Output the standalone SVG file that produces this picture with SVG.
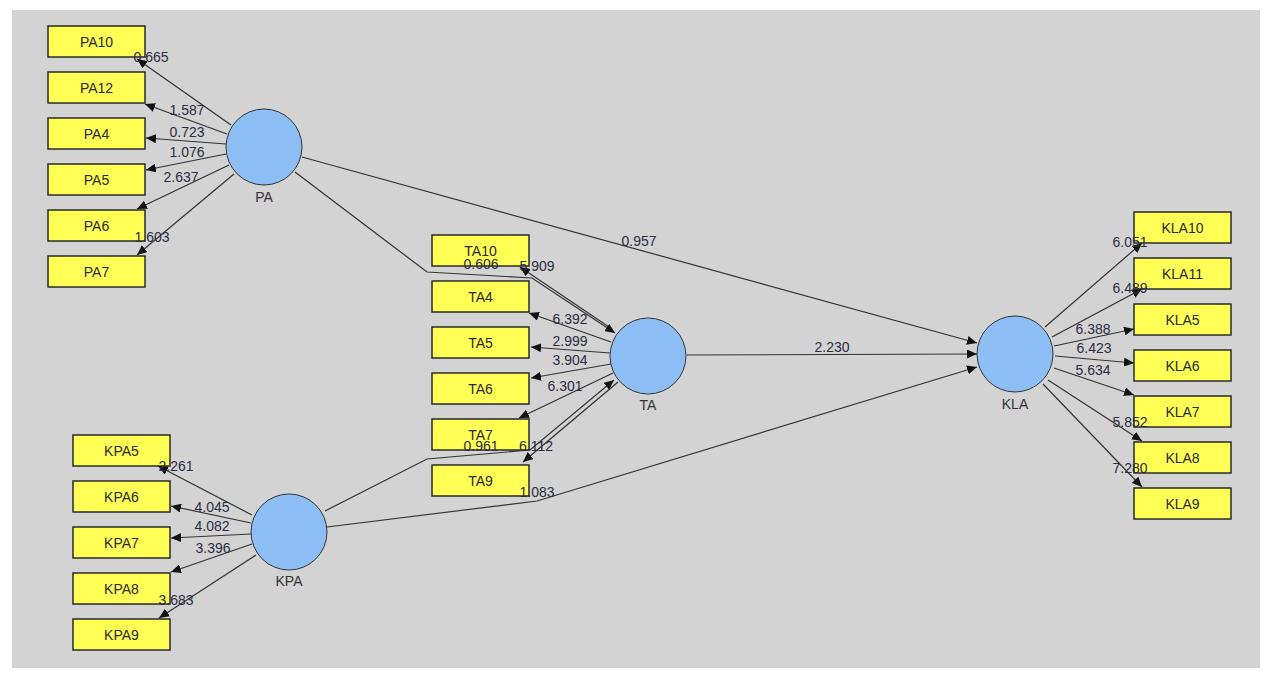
<svg xmlns="http://www.w3.org/2000/svg" width="1270" height="684" viewBox="0 0 1270 684">
<defs>
<marker id="arr" markerUnits="userSpaceOnUse" markerWidth="11" markerHeight="9" refX="10" refY="4.5" orient="auto">
<path d="M0,0 L10,4.5 L0,9 z" fill="#111"/>
</marker>
<style>
.box{fill:#ffff55;stroke:#2a2a2a;stroke-width:1.5}
.lv{fill:#8dbef5;stroke:#333;stroke-width:1}
.bt{font-family:"Liberation Sans",Arial,sans-serif;font-size:14px;fill:#2a2a2a;text-anchor:middle}
.ct{font-family:"Liberation Sans",Arial,sans-serif;font-size:14px;fill:#333;text-anchor:middle}
.num{font-family:"Liberation Sans",Arial,sans-serif;font-size:14px;fill:#2c2c44;text-anchor:middle}
.ln{fill:none;stroke:#333;stroke-width:1.2}
.ln.a{marker-end:url(#arr)}
</style>
</defs>
<rect x="0" y="0" width="1270" height="684" fill="#ffffff"/>
<rect x="12" y="10" width="1248" height="658" fill="#d3d3d3"/>

<g id="PA"><circle class="lv" cx="264" cy="147" r="38"/><text class="ct" x="264" y="202">PA</text></g>
<g id="TA"><circle class="lv" cx="648" cy="356" r="38"/><text class="ct" x="648" y="410">TA</text></g>
<g id="KPA"><circle class="lv" cx="289" cy="532" r="38"/><text class="ct" x="289" y="586">KPA</text></g>
<g id="KLA"><circle class="lv" cx="1015" cy="354" r="38"/><text class="ct" x="1015" y="409">KLA</text></g>

<g id="PA10"><rect class="box" x="48" y="26" width="97" height="31"/><text class="bt" x="96.5" y="47">PA10</text></g>
<g id="PA12"><rect class="box" x="48" y="72" width="97" height="31"/><text class="bt" x="96.5" y="93">PA12</text></g>
<g id="PA4"><rect class="box" x="48" y="118" width="97" height="31"/><text class="bt" x="96.5" y="139">PA4</text></g>
<g id="PA5"><rect class="box" x="48" y="164" width="97" height="31"/><text class="bt" x="96.5" y="185">PA5</text></g>
<g id="PA6"><rect class="box" x="48" y="210" width="97" height="31"/><text class="bt" x="96.5" y="231">PA6</text></g>
<g id="PA7"><rect class="box" x="48" y="256" width="97" height="31"/><text class="bt" x="96.5" y="277">PA7</text></g>

<g id="TA10"><rect class="box" x="432" y="235" width="97" height="31"/><text class="bt" x="480.5" y="256">TA10</text></g>
<g id="TA4"><rect class="box" x="432" y="281" width="97" height="31"/><text class="bt" x="480.5" y="302">TA4</text></g>
<g id="TA5"><rect class="box" x="432" y="327" width="97" height="31"/><text class="bt" x="480.5" y="348">TA5</text></g>
<g id="TA6"><rect class="box" x="432" y="373" width="97" height="31"/><text class="bt" x="480.5" y="394">TA6</text></g>
<g id="TA7"><rect class="box" x="432" y="419" width="97" height="31"/><text class="bt" x="480.5" y="440">TA7</text></g>
<g id="TA9"><rect class="box" x="432" y="465" width="97" height="31"/><text class="bt" x="480.5" y="486">TA9</text></g>

<g id="KPA5"><rect class="box" x="73" y="435" width="97" height="31"/><text class="bt" x="121.5" y="456">KPA5</text></g>
<g id="KPA6"><rect class="box" x="73" y="481" width="97" height="31"/><text class="bt" x="121.5" y="502">KPA6</text></g>
<g id="KPA7"><rect class="box" x="73" y="527" width="97" height="31"/><text class="bt" x="121.5" y="548">KPA7</text></g>
<g id="KPA8"><rect class="box" x="73" y="573" width="97" height="31"/><text class="bt" x="121.5" y="594">KPA8</text></g>
<g id="KPA9"><rect class="box" x="73" y="619" width="97" height="31"/><text class="bt" x="121.5" y="640">KPA9</text></g>

<g id="KLA10"><rect class="box" x="1134" y="212" width="97" height="31"/><text class="bt" x="1182.5" y="233">KLA10</text></g>
<g id="KLA11"><rect class="box" x="1134" y="258" width="97" height="31"/><text class="bt" x="1182.5" y="279">KLA11</text></g>
<g id="KLA5"><rect class="box" x="1134" y="304" width="97" height="31"/><text class="bt" x="1182.5" y="325">KLA5</text></g>
<g id="KLA6"><rect class="box" x="1134" y="350" width="97" height="31"/><text class="bt" x="1182.5" y="371">KLA6</text></g>
<g id="KLA7"><rect class="box" x="1134" y="396" width="97" height="31"/><text class="bt" x="1182.5" y="417">KLA7</text></g>
<g id="KLA8"><rect class="box" x="1134" y="442" width="97" height="31"/><text class="bt" x="1182.5" y="463">KLA8</text></g>
<g id="KLA9"><rect class="box" x="1134" y="488" width="97" height="31"/><text class="bt" x="1182.5" y="509">KLA9</text></g>

<g id="connectors">
<line class="ln a" x1="231" y1="125" x2="137" y2="59"/>
<line class="ln a" x1="227" y1="134" x2="145" y2="104"/>
<line class="ln a" x1="226" y1="144" x2="146" y2="138"/>
<line class="ln a" x1="226" y1="154" x2="146" y2="170"/>
<line class="ln a" x1="229" y1="165" x2="137" y2="209"/>
<line class="ln a" x1="234" y1="174" x2="137" y2="255"/>

<line class="ln a" x1="612" y1="329" x2="520" y2="267"/>
<line class="ln a" x1="611" y1="342" x2="529" y2="313"/>
<line class="ln a" x1="610" y1="353" x2="531" y2="347"/>
<line class="ln a" x1="611" y1="364" x2="531" y2="378"/>
<line class="ln a" x1="613" y1="373" x2="519" y2="418"/>
<line class="ln a" x1="618" y1="382" x2="523" y2="462"/>

<line class="ln a" x1="252" y1="515" x2="158" y2="466"/>
<line class="ln a" x1="251" y1="523" x2="171" y2="506"/>
<line class="ln a" x1="251" y1="534" x2="171" y2="538"/>
<line class="ln a" x1="252" y1="544" x2="171" y2="572"/>
<line class="ln a" x1="256" y1="555" x2="159" y2="618"/>

<line class="ln a" x1="1045" y1="327" x2="1142" y2="243"/>
<line class="ln a" x1="1052" y1="337" x2="1142" y2="289"/>
<line class="ln a" x1="1054" y1="346" x2="1134" y2="329"/>
<line class="ln a" x1="1055" y1="356" x2="1134" y2="363"/>
<line class="ln a" x1="1054" y1="368" x2="1134" y2="395"/>
<line class="ln a" x1="1048" y1="380" x2="1142" y2="441"/>
<line class="ln a" x1="1043" y1="384" x2="1142" y2="487"/>

<polyline class="ln a" points="295,172 427,272 532,278 615,333"/>
<polyline class="ln a" points="325,511 427,459 530,450 614,380"/>
<line class="ln a" x1="302" y1="157" x2="977" y2="343"/>
<line class="ln a" x1="687" y1="355" x2="977" y2="354"/>
<polyline class="ln a" points="327,527 537,501 977,367"/>

<text class="num" x="151" y="62">0.665</text>
<text class="num" x="187" y="115">1.587</text>
<text class="num" x="187" y="137">0.723</text>
<text class="num" x="187" y="157">1.076</text>
<text class="num" x="181" y="182">2.637</text>
<text class="num" x="152" y="242">1.603</text>

<text class="num" x="481" y="269">0.606</text>
<text class="num" x="537" y="271">5.909</text>
<text class="num" x="570" y="324">6.392</text>
<text class="num" x="570" y="346">2.999</text>
<text class="num" x="570" y="365">3.904</text>
<text class="num" x="565" y="391">6.301</text>
<text class="num" x="481" y="451">0.961</text>
<text class="num" x="536" y="451">6.112</text>
<text class="num" x="537" y="497">1.083</text>
<text class="num" x="639" y="246">0.957</text>
<text class="num" x="832" y="352">2.230</text>

<text class="num" x="176" y="471">2.261</text>
<text class="num" x="212" y="512">4.045</text>
<text class="num" x="212" y="531">4.082</text>
<text class="num" x="213" y="553">3.396</text>
<text class="num" x="176" y="605">3.683</text>

<text class="num" x="1130" y="247">6.051</text>
<text class="num" x="1130" y="293">6.489</text>
<text class="num" x="1093" y="334">6.388</text>
<text class="num" x="1094" y="353">6.423</text>
<text class="num" x="1093" y="375">5.634</text>
<text class="num" x="1130" y="427">5.852</text>
<text class="num" x="1130" y="473">7.280</text>
</g>
</svg>
